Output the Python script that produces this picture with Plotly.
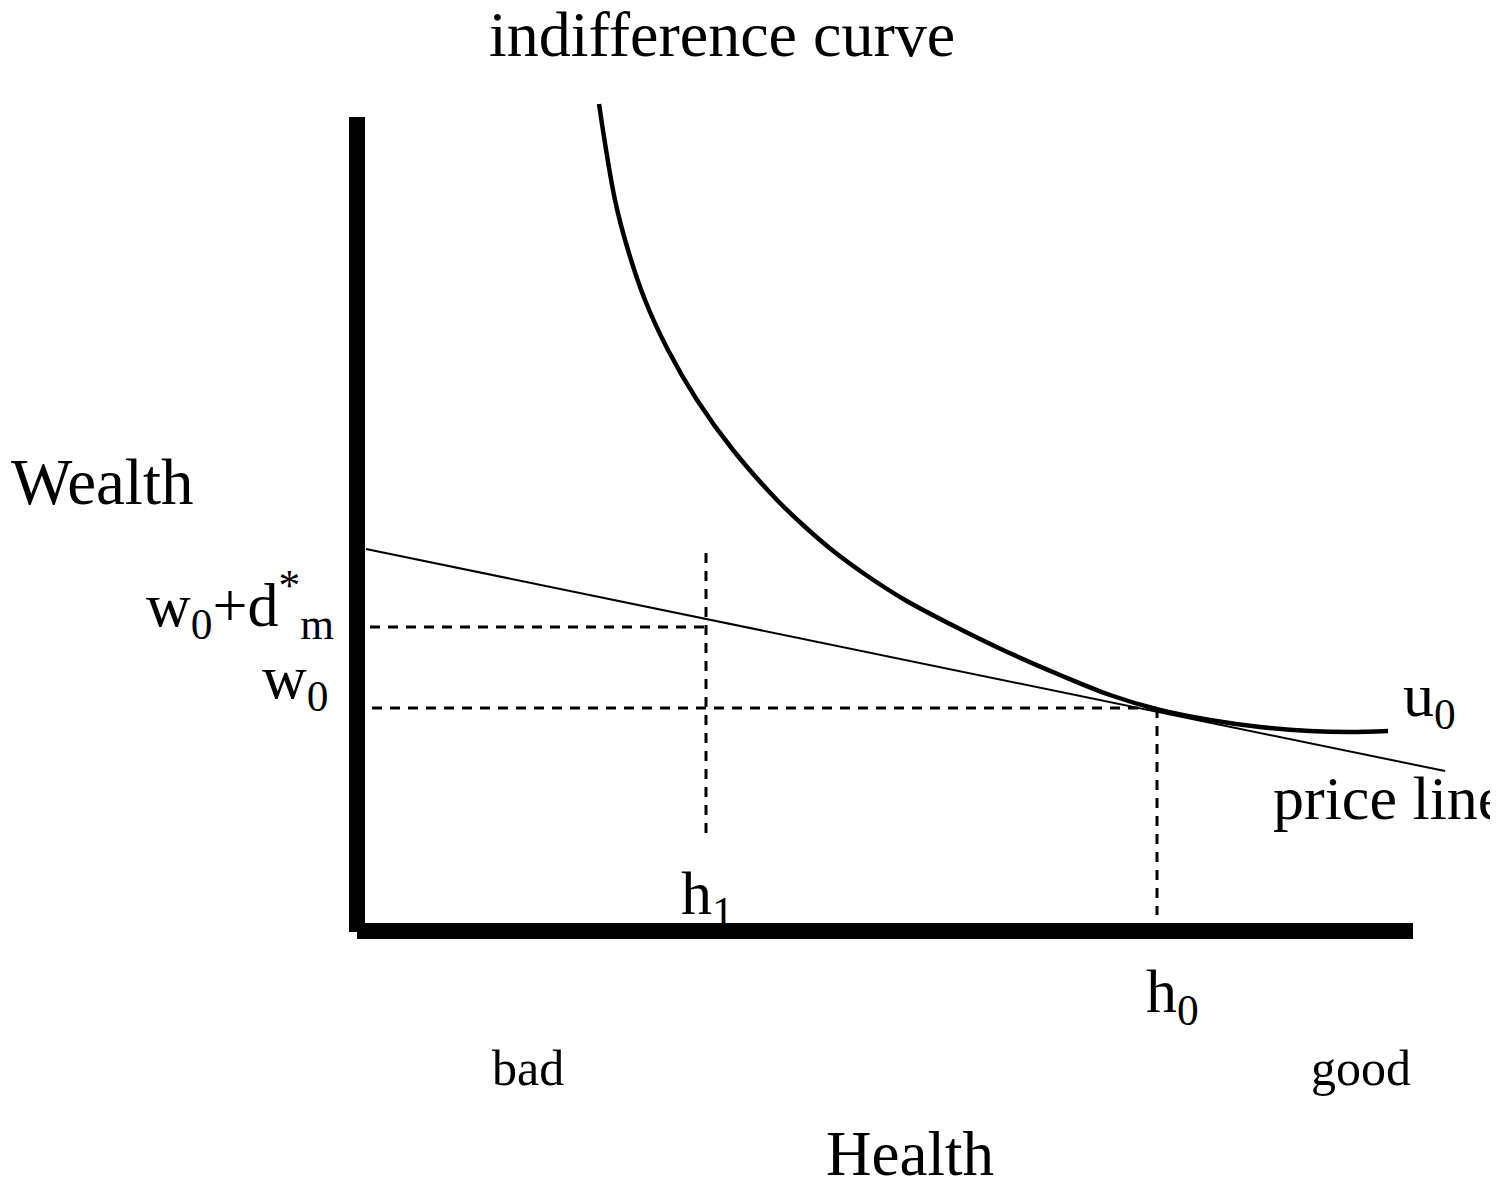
"""Indifference curve diagram: health vs wealth."""

import plotly.graph_objects as go

# canvas in pixel units (y grows downward); the page body adds an 8px margin
PAD = 8
W, H = 1490, 1181

# indifference curve u0
curve_x = [599, 615, 628, 645, 668, 697, 733, 777, 803, 832, 866, 905, 952,
           1003, 1060, 1110, 1160, 1210, 1260, 1310, 1350, 1388]
curve_y = [104, 200, 250, 300, 350, 400, 450, 500, 525, 550, 575, 600, 625,
           650, 675, 695, 710, 720, 727, 731, 732, 731]

# price line
price_x = [366, 1445]
price_y = [549, 771]

# axes
yaxis_x = [357, 357]
yaxis_y = [117, 932]
xaxis_x = [357, 1413]
xaxis_y = [931, 931]

# dashed guide lines
guides = [
    ([370, 706], [627, 627]),
    ([372, 1157], [708, 708]),
    ([706, 706], [553, 840]),
    ([1157, 1157], [708, 915]),
]

# labels: text, x, y, anchor, size
labels = [
    ("indifference curve", 722, 34, "center", 64),
    ("Wealth", 9, 482, "left", 65),
    ("w<sub>0</sub>+d<sup>*</sup><sub>m</sub>", 336, 604, "right", 62),
    ("w<sub>0</sub>", 330, 681, "right", 62),
    ("u<sub>0</sub>", 1401, 699, "left", 62),
    ("price line", 1271, 798, "left", 62),
    ("h<sub>1</sub>", 679, 897, "left", 62),
    ("h<sub>0</sub>", 1144, 995, "left", 62),
    ("bad", 490, 1068, "left", 50),
    ("good", 1309, 1068, "left", 50),
    ("Health", 910, 1154, "center", 63),
]

fig = go.Figure()

for gx, gy in guides:
    fig.add_trace(go.Scatter(x=gx, y=gy, mode="lines",
                             line=dict(color="black", width=3, dash="10px,8px")))

fig.add_trace(go.Scatter(x=price_x, y=price_y, mode="lines",
                         line=dict(color="black", width=2)))
fig.add_trace(go.Scatter(x=curve_x, y=curve_y, mode="lines",
                         line=dict(color="black", width=4.5, shape="spline",
                                   smoothing=1)))
fig.add_trace(go.Scatter(x=yaxis_x, y=yaxis_y, mode="lines",
                         line=dict(color="black", width=16)))
fig.add_trace(go.Scatter(x=xaxis_x, y=xaxis_y, mode="lines",
                         line=dict(color="black", width=16)))

for text, x, y, anchor, size in labels:
    fig.add_annotation(x=x, y=y, text=text, showarrow=False, xanchor=anchor,
                       yanchor="middle",
                       font=dict(family="Liberation Serif", size=size, color="black"))

fig.update_xaxes(range=[PAD, W], visible=False)
fig.update_yaxes(range=[H, PAD], visible=False)
fig.update_layout(width=W - PAD, height=H - PAD,
                  margin=dict(l=0, r=0, t=0, b=0),
                  showlegend=False, plot_bgcolor="white", paper_bgcolor="white")

fig.write_html("out.html")
